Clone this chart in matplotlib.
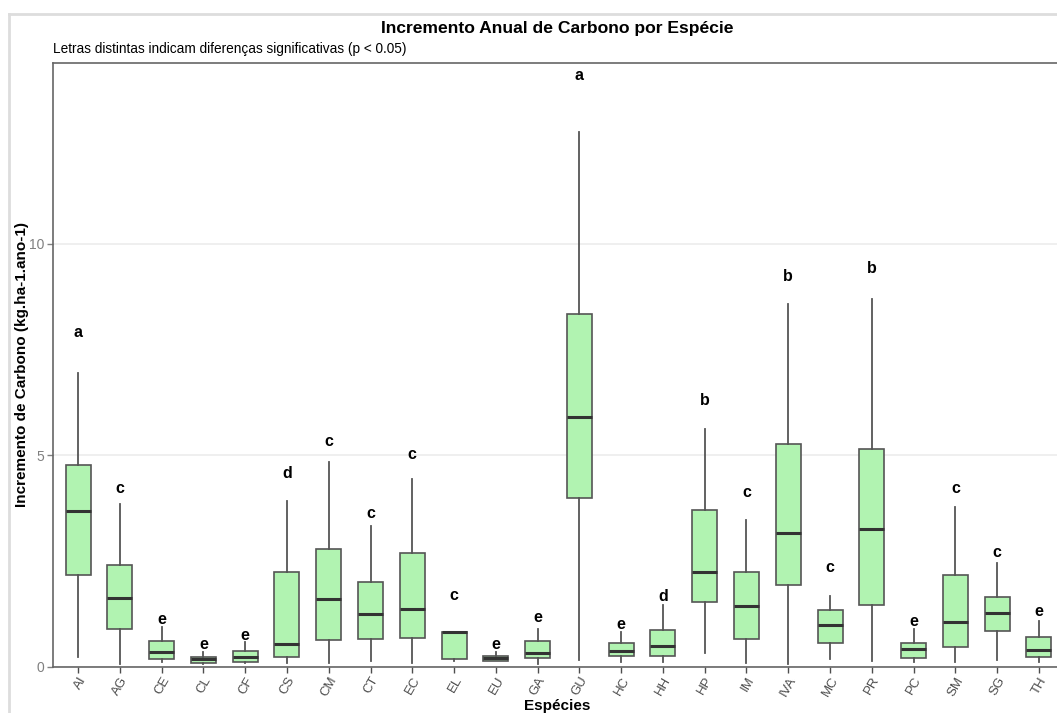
import matplotlib
matplotlib.use("Agg")
import matplotlib.pyplot as plt
from matplotlib.lines import Line2D

plt.rcParams["font.family"] = ["Liberation Sans", "DejaVu Sans"]

# ── Data (kg.ha-1.ano-1) ──
species = ["AI", "AG", "CE", "CL", "CF", "CS", "CM", "CT", "EC", "EL", "EU", "GA",
           "GU", "HC", "HH", "HP", "IM", "IVA", "MC", "PR", "PC", "SM", "SG", "TH"]
whisk_lo = [0.23, 0.05, 0.11, 0.05, 0.08, 0.09, 0.08, 0.14, 0.09, 0.13, 0.12, 0.07,
            0.15, 0.11, 0.11, 0.33, 0.08, 0.06, 0.17, 0.13, 0.11, 0.10, 0.15, 0.10]
q1 = [2.17, 0.88, 0.18, 0.08, 0.11, 0.23, 0.63, 0.64, 0.68, 0.17, 0.14, 0.21,
      3.98, 0.25, 0.26, 1.52, 0.65, 1.92, 0.56, 1.45, 0.21, 0.45, 0.84, 0.23]
median = [3.68, 1.62, 0.34, 0.17, 0.23, 0.53, 1.60, 1.23, 1.36, 0.81, 0.20, 0.31,
          5.89, 0.37, 0.48, 2.23, 1.44, 3.15, 0.98, 3.24, 0.41, 1.06, 1.27, 0.39]
q3 = [4.76, 2.40, 0.60, 0.23, 0.37, 2.23, 2.79, 1.99, 2.68, 0.82, 0.26, 0.61,
      8.33, 0.55, 0.86, 3.71, 2.23, 5.25, 1.34, 5.14, 0.56, 2.16, 1.65, 0.69]
whisk_hi = [6.94, 3.84, 0.94, 0.34, 0.59, 3.91, 4.84, 3.32, 4.43, 0.82, 0.35, 0.89,
            12.64, 0.82, 1.45, 5.61, 3.46, 8.56, 1.67, 8.69, 0.88, 3.76, 2.44, 1.08]
letters = ["a", "c", "e", "e", "e", "d", "c", "c", "c", "c", "e", "e",
           "a", "e", "d", "b", "c", "b", "c", "b", "e", "c", "c", "e"]
letter_y = [7.90, 4.20, 1.12, 0.51, 0.74, 4.57, 5.31, 3.62, 5.02, 1.67, 0.51, 1.16,
            13.98, 1.00, 1.65, 6.30, 4.11, 9.23, 2.35, 9.42, 1.06, 4.20, 2.70, 1.30]

FILL = "#b1f3b1"
EDGE = "#555555"

fig = plt.figure(figsize=(10.57, 7.13), dpi=100)
fig.patch.set_facecolor("white")

# outer light frame of the original (cropped) figure
fig.add_artist(Line2D([9 / 1057, 9 / 1057], [0, 1 - 13.5 / 713],
                      transform=fig.transFigure, color="#dddddd", lw=2))
fig.add_artist(Line2D([9 / 1057, 1], [1 - 13.5 / 713, 1 - 13.5 / 713],
                      transform=fig.transFigure, color="#dddddd", lw=2))

ax = fig.add_axes([53 / 1057, 46.5 / 713, 1010 / 1057, 603.5 / 713])

stats = []
for i, name in enumerate(species):
    stats.append({
        "label": name, "whislo": whisk_lo[i], "q1": q1[i], "med": median[i],
        "q3": q3[i], "whishi": whisk_hi[i], "fliers": [],
    })

positions = list(range(1, len(species) + 1))
ax.bxp(stats, positions=positions, widths=0.6, patch_artist=True, showcaps=False,
       boxprops=dict(facecolor=FILL, edgecolor=EDGE, linewidth=1.2),
       medianprops=dict(color="#333333", linewidth=2.2),
       whiskerprops=dict(color=EDGE, linewidth=1.3))

for i, lab in enumerate(letters):
    ax.text(positions[i], letter_y[i], lab, ha="center", va="center",
            fontsize=11.5, fontweight="bold", color="black")

ax.set_xlim(0.4, 24.576)
ax.set_ylim(0, 14.27)
ax.set_yticks([0, 5, 10])
ax.yaxis.grid(True, color="#ebebeb", linewidth=1.1)
ax.set_axisbelow(True)

ax.set_xticks(positions)
ax.set_xticklabels(species, rotation=60, ha="right", va="top",
                   rotation_mode="anchor", fontsize=9.5, color="#4d4d4d")
ax.tick_params(axis="x", colors="#4d4d4d", length=4, width=1, pad=2)
ax.tick_params(axis="y", colors="#808080", labelsize=10, length=4, width=1, pad=2)

for side in ["left", "bottom", "top", "right"]:
    ax.spines[side].set_color("#666666")
    ax.spines[side].set_linewidth(1.2)

ax.set_xlabel("Espécies", fontsize=11, fontweight="bold")
ax.xaxis.set_label_coords((557 - 53) / 1010, -39.5 / 603.5)
ax.xaxis.label.set_va("center")
ax.set_ylabel("Incremento de Carbono (kg.ha-1.ano-1)", fontsize=11,
              fontweight="bold")
ax.yaxis.set_label_coords(-31 / 1010, 0.5)
ax.yaxis.label.set_va("center")

fig.text(557 / 1057, 1 - 28 / 713, "Incremento Anual de Carbono por Espécie",
         ha="center", va="center", fontsize=12.6, fontweight="bold")
fig.text(53 / 1057, 1 - 49 / 713,
         "Letras distintas indicam diferenças significativas (p < 0.05)",
         ha="left", va="center", fontsize=9.85)

fig.savefig("out.png", dpi=100)
